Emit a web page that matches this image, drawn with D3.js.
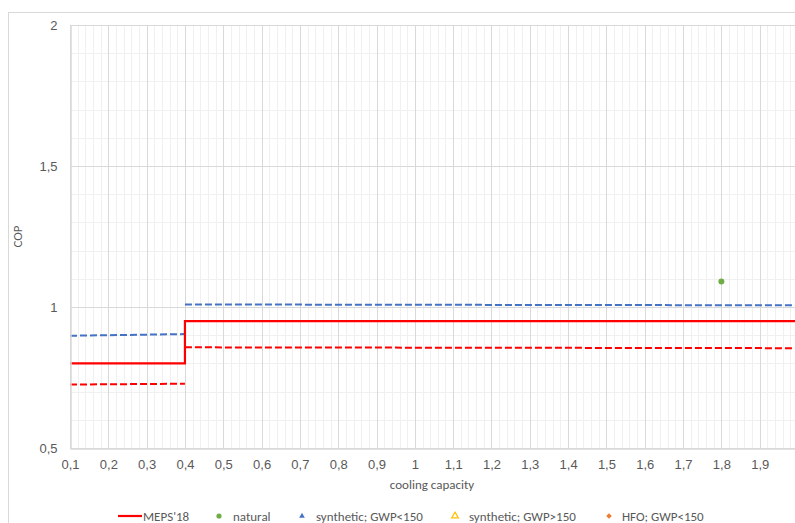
<!DOCTYPE html>
<html>
<head>
<meta charset="utf-8">
<script src="https://cdn.jsdelivr.net/npm/d3@7"></script>
<style>
  html, body { margin: 0; padding: 0; background: #fff; }
  svg { display: block; font-family: Calibri, Carlito, "Open Sans", "Liberation Sans", sans-serif; }
</style>
</head>
<body>
<svg id="chart" width="795" height="523"></svg>
<script>
// Cooling capacity breakpoints and COP values
const mepsX = [0.1, 0.4, 0.4, 2.0];
const mepsY = [0.80, 0.80, 0.95, 0.95];

// Dashed reference bands, one segment per capacity range
const segX = [[0.1, 0.4], [0.4, 2.0]];
const lowerRedY = [[0.725, 0.728], [0.857, 0.854]];
const upperBlueY = [[0.898, 0.904], [1.009, 1.006]];

// Refrigerant points
const naturalX = [1.8];
const naturalY = [1.09];

const xTicks = [0.1, 0.2, 0.3, 0.4, 0.5, 0.6, 0.7, 0.8, 0.9, 1.0, 1.1, 1.2, 1.3, 1.4, 1.5, 1.6, 1.7, 1.8, 1.9, 2.0];
const yTicks = [0.5, 1.0, 1.5, 2.0];

const legendLabels = ["MEPS'18", "natural", "synthetic; GWP<150", "synthetic; GWP>150", "HFO; GWP<150"];

const svg = d3.select("#chart");
const W = 795, H = 523;
const plotL = 70, plotR = 798, plotT = 25, plotB = 448;

const x = d3.scaleLinear().domain([0.1, 2.0]).range([plotL, plotR]);
const y = d3.scaleLinear().domain([0.5, 2.0]).range([plotB, plotT]);

const fmt = v => d3.format("~g")(v).replace(".", ",");

// chart border
svg.append("rect").attr("x", 8.5).attr("y", 12.5).attr("width", W + 10).attr("height", H + 10)
  .attr("fill", "#fff").attr("stroke", "#d9d9d9").attr("stroke-width", 1);

const g = svg.append("g");

// minor gridlines
const minorX = d3.range(0.1, 2.0001, 0.02).map(v => +v.toFixed(2));
const minorY = d3.range(0.5, 2.0001, 0.1).map(v => +v.toFixed(2));
g.append("g").selectAll("line").data(minorX).join("line")
  .attr("x1", d => Math.round(x(d)) + 0.5).attr("x2", d => Math.round(x(d)) + 0.5)
  .attr("y1", plotT).attr("y2", plotB)
  .attr("stroke", "#f0f0f0").attr("stroke-width", 1);
g.append("g").selectAll("line").data(minorY).join("line")
  .attr("y1", d => Math.round(y(d)) + 0.5).attr("y2", d => Math.round(y(d)) + 0.5)
  .attr("x1", plotL).attr("x2", plotR)
  .attr("stroke", "#f0f0f0").attr("stroke-width", 1);

// major gridlines
g.append("g").selectAll("line").data(xTicks).join("line")
  .attr("x1", d => Math.round(x(d)) + 0.5).attr("x2", d => Math.round(x(d)) + 0.5)
  .attr("y1", plotT).attr("y2", plotB)
  .attr("stroke", "#d9d9d9").attr("stroke-width", 1);
g.append("g").selectAll("line").data(yTicks).join("line")
  .attr("y1", d => Math.round(y(d)) + 0.5).attr("y2", d => Math.round(y(d)) + 0.5)
  .attr("x1", plotL).attr("x2", plotR)
  .attr("stroke", "#d9d9d9").attr("stroke-width", 1);

// axes
const xAxis = d3.axisBottom(x).tickValues(xTicks).tickFormat(fmt).tickSize(0).tickPadding(11);
const yAxis = d3.axisLeft(y).tickValues(yTicks).tickFormat(fmt).tickSize(0).tickPadding(13);
const gx = svg.append("g").attr("transform", `translate(0,${plotB + 0.5})`).call(xAxis);
const gy = svg.append("g").attr("transform", `translate(${plotL + 0.5},0)`).call(yAxis);
[gx, gy].forEach(a => {
  a.select(".domain").attr("stroke", "#d9d9d9").attr("stroke-width", 1.5);
  a.selectAll("text").attr("fill", "#595959").style("font-size", "13px");
});

// axis titles
svg.append("text").attr("x", (plotL + plotR) / 2 - 2).attr("y", 489)
  .attr("text-anchor", "middle").attr("fill", "#595959").style("font-size", "13px")
  .text("cooling capacity");
svg.append("text").attr("transform", `translate(22,${(plotT + plotB) / 2}) rotate(-90)`)
  .attr("text-anchor", "middle").attr("fill", "#595959").style("font-size", "13px")
  .text("COP");

// series
const line = d3.line().x(d => x(d[0])).y(d => y(d[1]));

segX.forEach((xs, i) => {
  g.append("path").datum(xs.map((v, j) => [v, upperBlueY[i][j]]))
    .attr("d", line).attr("fill", "none").attr("stroke", "#4472C4")
    .attr("stroke-width", 2).attr("stroke-dasharray", "7,3");
  g.append("path").datum(xs.map((v, j) => [v, lowerRedY[i][j]]))
    .attr("d", line).attr("fill", "none").attr("stroke", "#FF0000")
    .attr("stroke-width", 2).attr("stroke-dasharray", "7,3");
});

g.append("path").datum(mepsX.map((v, i) => [v, mepsY[i]]))
  .attr("d", line).attr("fill", "none").attr("stroke", "#FF0000").attr("stroke-width", 2.2);

g.selectAll("circle.nat").data(naturalX.map((v, i) => [v, naturalY[i]])).join("circle")
  .attr("class", "nat").attr("cx", d => x(d[0])).attr("cy", d => y(d[1])).attr("r", 3)
  .attr("fill", "#70AD47");

// legend
const ly = 516;
const lg = svg.append("g").style("font-size", "13px").attr("fill", "#595959");
const entries = [
  { x: 143, draw: s => s.append("line").attr("x1", 118).attr("x2", 142).attr("y1", ly).attr("y2", ly).attr("stroke", "#FF0000").attr("stroke-width", 2.2) },
  { x: 233, draw: s => s.append("circle").attr("cx", 219).attr("cy", ly).attr("r", 2.6).attr("fill", "#70AD47") },
  { x: 316, draw: s => s.append("path").attr("d", d3.symbol(d3.symbolTriangle, 14)()).attr("transform", `translate(302,${ly})`).attr("fill", "#4472C4") },
  { x: 469, draw: s => s.append("path").attr("d", d3.symbol(d3.symbolTriangle, 20)()).attr("transform", `translate(455,${ly})`).attr("fill", "none").attr("stroke", "#FFC000").attr("stroke-width", 1.2) },
  { x: 622, draw: s => s.append("path").attr("d", d3.symbol(d3.symbolSquare, 16)()).attr("transform", `translate(609,${ly}) rotate(45)`).attr("fill", "#ED7D31") }
];
entries.forEach((e, i) => {
  e.draw(lg);
  lg.append("text").attr("x", e.x).attr("y", ly).attr("dy", "0.35em").text(legendLabels[i]);
});
</script>
</body>
</html>
